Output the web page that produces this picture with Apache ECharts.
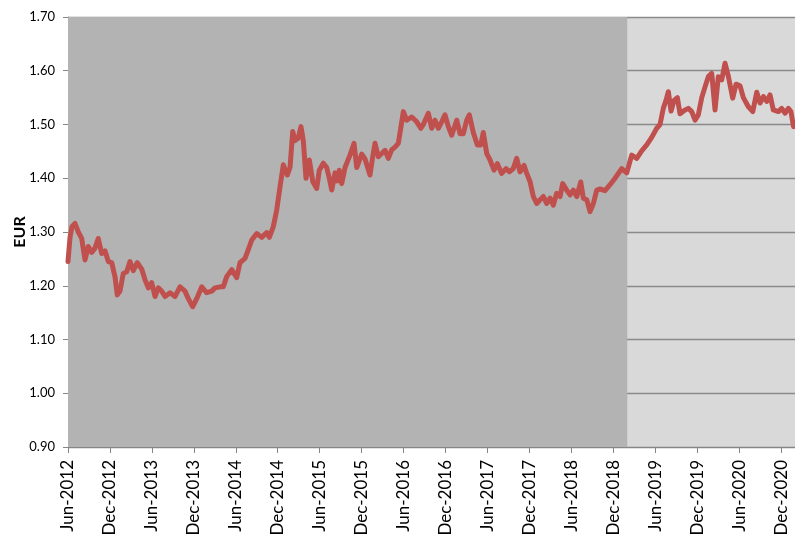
<!DOCTYPE html>
<html>
<head>
<meta charset="utf-8">
<script src="https://cdn.jsdelivr.net/npm/echarts@6/dist/echarts.min.js"></script>
<style>
html,body{margin:0;padding:0;background:#fff;}
#chart{width:795px;height:537px;}
</style>
</head>
<body>
<div id="chart"></div>
<script>
// x position: months since Jun-2012
const months = [0,0.29,0.57,1.0,1.47,1.96,2.43,2.90,3.39,3.86,4.33,4.82,5.29,5.77,6.25,6.72,7.05,7.44,7.91,8.40,8.87,9.34,9.91,10.54,11.02,11.49,11.97,12.45,12.92,13.40,13.88,14.59,15.31,16.02,16.74,17.21,17.84,18.41,19.13,19.84,20.56,21.03,21.75,22.22,22.70,23.42,24.13,24.61,25.32,25.79,26.28,27.0,27.71,28.43,28.80,29.37,29.86,30.33,30.80,31.37,31.76,32.15,32.47,32.95,33.33,33.66,34.05,34.52,35.01,35.58,35.95,36.52,37.01,37.38,37.73,38.20,38.53,38.81,39.16,39.63,40.34,40.92,41.30,42.02,42.49,43.20,43.59,43.92,44.39,44.88,45.35,45.82,46.31,46.78,47.25,47.60,47.97,48.46,49.17,49.89,50.46,50.83,51.55,52.03,52.50,52.98,53.46,53.93,54.41,54.89,55.61,56.08,56.55,57.04,57.41,57.98,58.56,59.04,59.41,59.90,60.37,60.94,61.42,62.04,62.66,63.13,63.70,64.19,64.66,65.24,65.62,66.09,66.57,67.05,67.53,68.0,68.48,68.96,69.43,69.91,70.39,70.77,71.34,71.82,72.29,72.78,73.35,73.72,74.21,74.68,75.15,75.64,76.11,76.82,77.54,78.25,79.21,79.93,80.64,81.36,82.07,82.79,83.50,84.22,84.69,85.16,85.55,85.88,86.27,86.70,87.17,87.55,88.27,88.74,89.23,89.70,90.17,90.66,91.13,91.60,92.09,92.56,93.03,93.52,93.99,94.46,95.09,95.57,96.14,96.61,97.33,97.96,98.53,99.0,99.48,99.96,100.43,100.90,101.62,102.10,102.57,103.05,103.42,103.79];
const eurValues = [1.245,1.29,1.31,1.316,1.30,1.288,1.248,1.273,1.262,1.27,1.288,1.26,1.265,1.245,1.243,1.217,1.183,1.19,1.223,1.226,1.245,1.228,1.243,1.231,1.211,1.196,1.206,1.18,1.196,1.19,1.18,1.187,1.18,1.198,1.19,1.176,1.161,1.176,1.198,1.187,1.19,1.196,1.198,1.198,1.217,1.23,1.215,1.243,1.251,1.267,1.285,1.297,1.29,1.299,1.29,1.31,1.341,1.384,1.425,1.406,1.42,1.487,1.47,1.475,1.496,1.47,1.40,1.434,1.394,1.381,1.415,1.428,1.42,1.40,1.378,1.41,1.395,1.415,1.39,1.42,1.443,1.465,1.42,1.445,1.436,1.406,1.44,1.465,1.44,1.446,1.452,1.437,1.453,1.458,1.465,1.493,1.524,1.508,1.514,1.505,1.493,1.50,1.521,1.493,1.508,1.493,1.505,1.518,1.496,1.48,1.508,1.483,1.483,1.508,1.518,1.485,1.462,1.462,1.485,1.446,1.434,1.415,1.427,1.409,1.418,1.412,1.418,1.437,1.412,1.424,1.409,1.394,1.366,1.353,1.36,1.366,1.353,1.363,1.35,1.372,1.366,1.39,1.378,1.369,1.378,1.366,1.393,1.363,1.36,1.338,1.353,1.378,1.38,1.377,1.388,1.40,1.418,1.41,1.443,1.437,1.451,1.462,1.476,1.493,1.50,1.53,1.545,1.561,1.525,1.545,1.55,1.52,1.527,1.53,1.524,1.508,1.518,1.55,1.57,1.589,1.595,1.527,1.589,1.583,1.614,1.59,1.549,1.575,1.572,1.55,1.533,1.524,1.56,1.54,1.552,1.543,1.555,1.527,1.524,1.530,1.521,1.53,1.524,1.496];
const tickLabels = ['Jun-2012','Dec-2012','Jun-2013','Dec-2013','Jun-2014','Dec-2014','Jun-2015','Dec-2015','Jun-2016','Dec-2016','Jun-2017','Dec-2017','Jun-2018','Dec-2018','Jun-2019','Dec-2019','Jun-2020','Dec-2020'];
const shadedRange = [0, 80];

const chart = echarts.init(document.getElementById('chart'), null, {renderer:'canvas'});
const font = 'Lato, "Open Sans", sans-serif';
chart.setOption({
  animation: false,
  backgroundColor: '#ffffff',
  grid: {left: 68, right: 0, top: 17, bottom: 90, show: true, backgroundColor: '#d9d9d9', borderWidth: 0,
         containLabel: false, outerBoundsMode: 'none'},
  xAxis: {
    type: 'value', min: 0, max: 104, interval: 6,
    axisLine: {show: true, onZero: false, lineStyle: {color: '#868686', width: 1}},
    axisTick: {show: true, length: 6, lineStyle: {color: '#868686'}},
    splitLine: {show: false},
    axisLabel: {
      rotate: 90, margin: 13, fontSize: 17, color: '#000', fontFamily: font,
      hideOverlap: false,
      formatter: v => tickLabels[Math.round(v / 6)] || ''
    }
  },
  yAxis: {
    type: 'value', min: 0.9, max: 1.7, interval: 0.1,
    name: 'EUR', nameLocation: 'middle', nameGap: 40, nameMoveOverlap: false,
    nameTextStyle: {fontSize: 16, fontWeight: 'bold', color: '#000', fontFamily: font},
    axisLine: {show: true, lineStyle: {color: '#868686', width: 1}},
    axisTick: {show: true, length: 5, lineStyle: {color: '#868686'}},
    splitLine: {show: true, lineStyle: {color: '#8a8a8a', width: 1.3}},
    axisLabel: {margin: 13, fontSize: 13, color: '#000', fontFamily: font, formatter: v => v.toFixed(2)}
  },
  series: [{
    type: 'line',
    data: months.map((m, i) => [m, eurValues[i]]),
    showSymbol: false,
    lineStyle: {color: '#c0504d', width: 5, cap: 'round', join: 'round'},
    markArea: {
      silent: true,
      itemStyle: {color: '#b3b3b3'},
      data: [[{xAxis: shadedRange[0]}, {xAxis: shadedRange[1]}]]
    },
    z: 3
  }]
});
</script>
</body>
</html>
